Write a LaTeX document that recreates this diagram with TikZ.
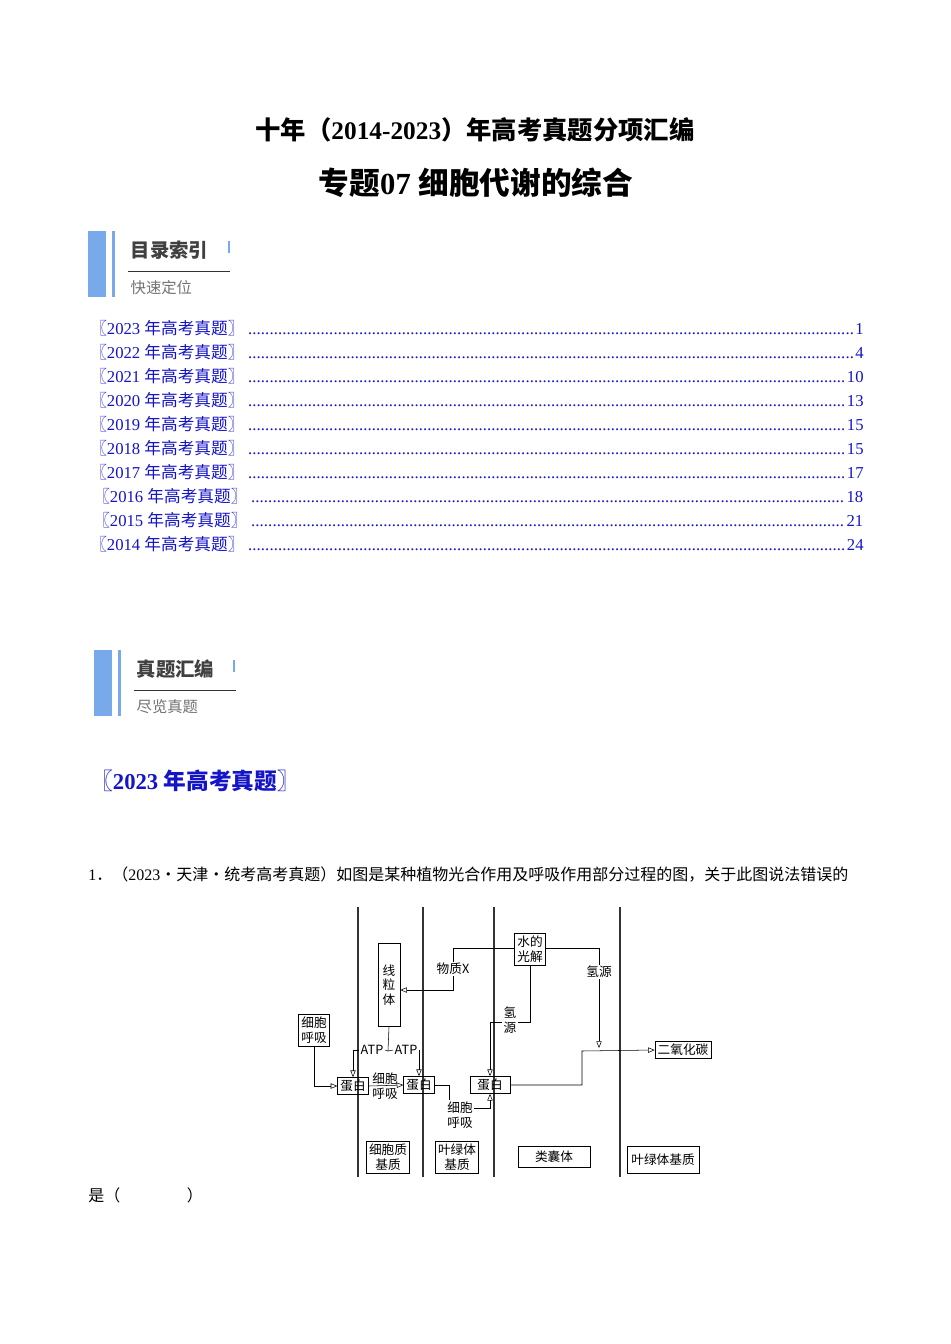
\documentclass[tikz,border=0pt]{standalone}
\usepackage{fontspec}
\setmainfont{Liberation Serif}
\newfontfamily\cjk{Noto Sans CJK SC}
\usetikzlibrary{arrows.meta,positioning}
\definecolor{tocblue}{RGB}{20,20,200}
\definecolor{barblue}{RGB}{120,170,235}
\newcommand{\tocdots}{\leaders\hbox to 3.2pt{\hss.\hss}\hfill}
\newcommand{\tocline}[3]{\makebox[#3][l]{{\cjk 〖}#1 {\cjk 年高考真题〗}\tocdots #2}}

\begin{document}
\begin{tikzpicture}[
  x=0.75pt, y=-0.75pt,
  > = {Triangle[open,length=5pt,width=4pt]},
  box/.style = {draw, inner sep=2pt, font=\cjk\fontsize{9.5}{11}\selectfont, align=center},
  lbl/.style = {inner sep=1pt, font=\cjk\fontsize{9.5}{11}\selectfont, align=center},
  toc/.style = {anchor=west, inner sep=0pt, text=tocblue, font=\fontsize{12.5}{14}\selectfont}
  ]
	\useasboundingbox[fill=white] (0,0) rectangle (950,1344);

	% heading
	\node[font=\bfseries\fontsize{19}{21}\selectfont] (title) at (475,130) {{\cjk\bfseries 十年（}2014-2023{\cjk\bfseries ）年高考真题分项汇编}};
	\node[font=\bfseries\fontsize{23}{25}\selectfont] (topic) at (476,183) {{\cjk\bfseries 专题}07 {\cjk\bfseries 细胞代谢的综合}};

	% index block
	\fill[barblue] (88,231) rectangle (106,297);
	\fill[barblue] (112,231) rectangle (115,297);
	\fill[barblue] (228,241) rectangle (230,253);
	\node[anchor=west, font=\cjk\bfseries\fontsize{14.5}{16}\selectfont, text=black!75] (idx) at (126,250) {目录索引};
	\draw[black!80] (128,271) -- (230,271);
	\node[anchor=west, font=\cjk\fontsize{11.5}{12}\selectfont, text=black!55] (idxsub) at (126,288) {快速定位};

	% table of contents
	\foreach \yr/\pg/\yy in {2023/1/328, 2022/4/352, 2021/10/376, 2020/13/400, 2019/15/424, 2018/15/448, 2017/17/472, 2014/24/544}
	  \node[toc] (toc\yr) at (90,\yy) {\tocline{\yr}{\pg}{580pt}};
	\node[toc] (toc2016) at (93,496) {\tocline{2016}{18}{577.5pt}};
	\node[toc] (toc2015) at (93,520) {\tocline{2015}{21}{577.5pt}};

	% collection block
	\fill[barblue] (94,650) rectangle (112,716);
	\fill[barblue] (118,650) rectangle (121,716);
	\fill[barblue] (233,660) rectangle (235,672);
	\node[anchor=west, font=\cjk\bfseries\fontsize{14.5}{16}\selectfont, text=black!75] (coll) at (132,669) {真题汇编};
	\draw[black!80] (134,690) -- (236,690);
	\node[anchor=west, font=\cjk\fontsize{11.5}{12}\selectfont, text=black!55] (collsub) at (132,707) {尽览真题};

	\node[anchor=west, inner sep=0pt, text=tocblue, font=\bfseries\fontsize{17}{19}\selectfont] (year) at (90,781) {{\cjk\bfseries 〖}2023 {\cjk\bfseries 年高考真题〗}};

	% question
	\node[anchor=west, inner sep=0pt, font=\fontsize{12}{13}\selectfont] (q1) at (88,874) {1{\cjk ．（}2023{\cjk ·天津·统考高考真题）如图是某种植物光合作用及呼吸作用部分过程的图，关于此图说法错误的}};
	\node[anchor=west, inner sep=0pt, font=\cjk\fontsize{12}{13}\selectfont] (q1b) at (88,1195) {是（\hspace{50pt}）};

	% membranes
	\foreach \xx in {358,423,494,620}
	  \draw[thick, black!80] (\xx,907) -- (\xx,1177);

	% diagram boxes
	\node[box, minimum width=16.5pt, minimum height=62pt] (mito) at (389,985) {线\\粒\\体};
	\node[box] (water) at (530,949) {水的\\光解};
	\node[box] (resp) at (314,1030) {细胞\\呼吸};
	\node[box] (prot1) at (353,1086) {蛋白};
	\node[box] (prot2) at (419,1085) {蛋白};
	\node[box, minimum width=30pt] (prot3) at (490,1085) {蛋白};
	\node[box] (co2) at (683,1050) {二氧化碳};
	\node[box] (cyto) at (388,1157) {细胞质\\基质};
	\node[box] (strA) at (457,1157) {叶绿体\\基质};
	\node[box, minimum width=54pt, minimum height=16pt] (thyl) at (554,1157) {类囊体};
	\node[box, minimum width=54pt, minimum height=20pt] (strB) at (663,1160) {叶绿体基质};

	% labels on connectors
	\node[lbl, fill=white] (labX) at (453,969) {物质X};
	\node[lbl] (labH1) at (599,972) {氢源};
	\node[lbl] (labH2) at (510,1020) {氢\\源};
	\node[lbl] (atp1) at (372,1050) {ATP};
	\node[lbl] (atp2) at (406,1050) {ATP};
	\node[lbl] (labR1) at (385,1086) {细胞\\呼吸};
	\node[lbl] (labR2) at (460,1115) {细胞\\呼吸};
	\coordinate (split) at (388,1051);

	% connectors
	\draw (water.west |- 0,948) -| (labX.north);
	\draw[->] (labX.south) |- (mito.east |- 0,990);
	\draw (water.east |- 0,948) -| (labH1.north);
	\draw[->] (labH1.south) -- (599,1048);
	\draw (water.south) |- (labH2.east |- 0,1022);
	\draw[->] (labH2.west |- 0,1022) -| (prot3.north);
	\draw (mito.south) -- (split);
	\draw[->] (atp1.west) -| (prot1.north);
	\draw[->] (atp2.east) -| (prot2.north);
	\draw (split) -- (atp1.east);
	\draw (split) -- (atp2.west);
	\draw[->] (resp.south) |- (prot1.west);
	\draw[->] (prot1.east) -- (prot2.west);
	\draw (prot2.east) -| (449,1100);
	\draw[->] (labR2.east |- 0,1108) -| (prot3.south);
	\draw[->] (prot3.east) -| (582,1051) -- (co2.west);
\end{tikzpicture}
\end{document}
